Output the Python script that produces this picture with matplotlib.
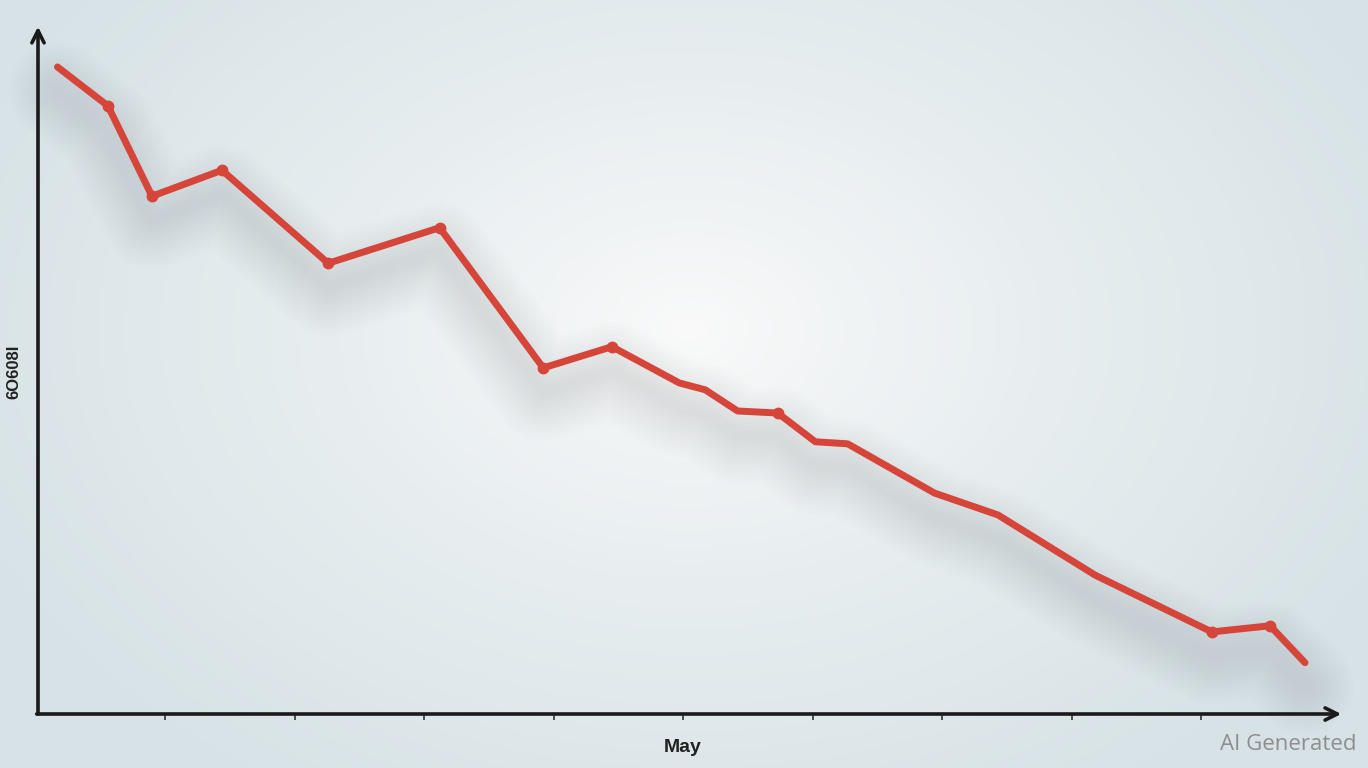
# Declining line chart on a soft radial background
import numpy as np
import matplotlib.pyplot as plt

# Data
x_vals = [0.17, 0.56, 0.90, 1.44, 2.26, 3.12, 3.92, 4.45, 4.97, 5.17,
          5.42, 5.73, 6.02, 6.27, 6.94, 7.43, 8.18, 9.08, 9.53, 9.80]
y_vals = [94.6, 88.9, 75.7, 79.5, 65.9, 71.1, 50.6, 53.7, 48.4, 47.4,
          44.3, 44.0, 39.8, 39.5, 32.3, 29.1, 20.3, 12.0, 12.9, 7.5]
tick_pos = [1, 2, 3, 4, 5, 6, 7, 8, 9]
tick_labels = ['', '', '', '', 'May', '', '', '', '']
y_label = '6O608I'
marked = [1, 2, 3, 4, 5, 6, 7, 11, 17, 18]

line_color = '#d6453a'

fig = plt.figure(figsize=(13.68, 7.68), dpi=100)

# Background: radial gradient, bright in the middle
bg = fig.add_axes([0, 0, 1, 1], zorder=0)
gx, gy = np.meshgrid(np.linspace(0, 1368, 400), np.linspace(0, 768, 230))
r = np.sqrt(((gx - 690) / 760) ** 2 + ((gy - 330) / 540) ** 2)
r = np.clip(r, 0, 1)
c_in = np.array([0.98, 0.98, 0.98])
c_out = np.array([0.845, 0.89, 0.905])
img = c_in[None, None, :] + (c_out - c_in)[None, None, :] * (r ** 0.85)[:, :, None]
bg.imshow(img, extent=[0, 1368, 768, 0], aspect='auto')
bg.axis('off')

ax = fig.add_axes([38 / 1368, 54 / 768, 1302 / 1368, 684 / 768], zorder=1)
ax.patch.set_alpha(0)
ax.set_xlim(0.02, 10.07)
ax.set_ylim(0, 100)

# Faint, wide shadow under the line
sy = np.array(y_vals)
for w in np.linspace(70, 8, 12):
    ax.plot(x_vals, sy - 3.5, color='#4a5258', lw=w, alpha=0.009, clip_on=False,
            solid_capstyle='round', solid_joinstyle='round', zorder=2)

ax.plot(x_vals, y_vals, color=line_color, lw=5, marker='o', markersize=7.5,
        markevery=marked, solid_capstyle='round', solid_joinstyle='round', zorder=3)

# Axes drawn as arrows
for s in ax.spines.values():
    s.set_visible(False)
ax.annotate('', xy=(0, 1.005), xytext=(0, 0), xycoords='axes fraction',
            arrowprops=dict(arrowstyle='->', lw=2.6, color='#1a1a1a',
                            mutation_scale=22, shrinkA=0, shrinkB=0))
ax.annotate('', xy=(1.001, 0), xytext=(-0.001, 0), xycoords='axes fraction',
            arrowprops=dict(arrowstyle='->', lw=2.6, color='#1a1a1a',
                            mutation_scale=22, shrinkA=0, shrinkB=0))

ax.set_xticks(tick_pos)
ax.set_xticklabels(tick_labels, fontsize=14, fontweight='bold', color='#222222',
                   family='Liberation Sans')
ax.tick_params(axis='x', length=4, width=1.2, color='#333333', pad=14)
ax.set_yticks([])
ax.set_ylabel(y_label, fontsize=12, fontweight='bold', color='#222222',
              family='Liberation Sans', labelpad=12)

fig.text(1356 / 1368, 23 / 768, 'AI Generated', ha='right', va='center',
         fontsize=16, color='#8e8e8e', family='Open Sans')

plt.savefig('out.png', dpi=100)
